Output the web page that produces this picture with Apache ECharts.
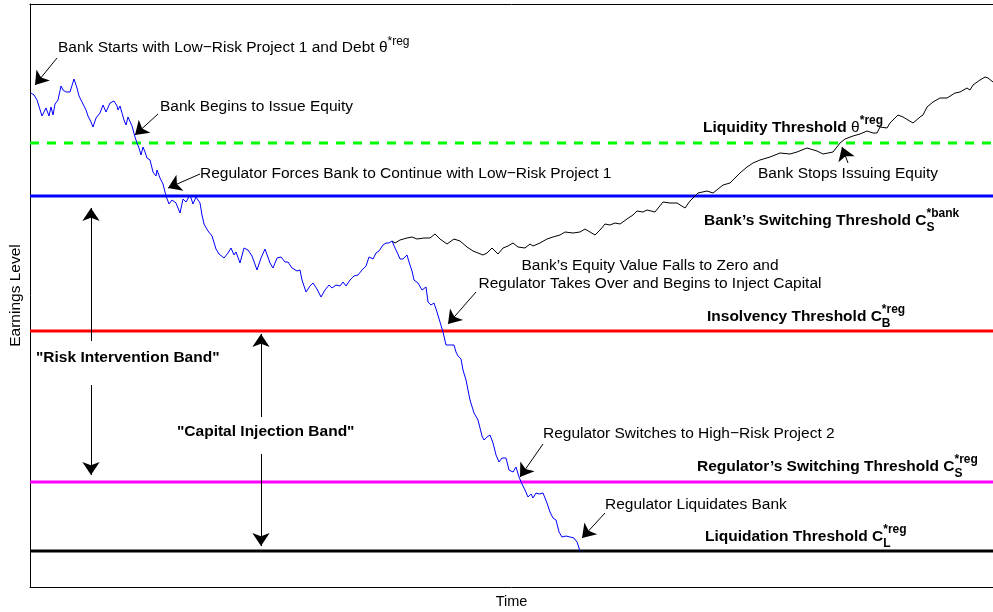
<!DOCTYPE html>
<html>
<head>
<meta charset="utf-8">
<title>Earnings Level</title>
<script src="https://cdn.jsdelivr.net/npm/echarts@6/dist/echarts.min.js"></script>
<style>
  html, body { margin: 0; padding: 0; background: #fff; }
  #chart { width: 993px; height: 612px; }
</style>
</head>
<body>
<div id="chart"></div>
<script>
// axes have no ticks: time runs 0..963, earnings level 0..583
const timeMax = 963
const levelMax = 583

// threshold levels
const liquidityLevel = 444
const bankSwitchLevel = 391
const insolvencyLevel = 256
const regSwitchLevel = 105
const liquidationLevel = 36

// earnings path: bank runs it, regulator takes over, ends at liquidation
const bankPath = [
  [1, 494], [4, 492], [7, 487], [12, 471], [16, 479], [19, 471], [21, 480], [23, 472], [25, 483], [28, 487],
  [31, 501], [33, 497], [36, 495], [40, 495], [44, 508], [47, 499], [49, 491], [53, 483], [56, 477], [58, 471],
  [61, 465], [63, 460], [66, 469], [70, 474], [73, 482], [76, 475], [80, 484], [84, 486], [87, 481], [88, 477],
  [90, 481], [94, 467], [96, 462], [98, 470], [100, 472], [102, 461], [105, 450], [107, 444], [109, 439], [111, 432],
  [113, 440], [115, 435], [117, 429], [120, 427], [123, 415], [126, 411], [127, 417], [130, 409], [133, 403], [136, 391],
  [139, 383], [142, 387], [146, 384], [150, 374], [153, 388], [156, 385], [160, 392], [163, 383], [166, 390], [170, 384],
  [172, 372], [174, 363], [178, 356], [182, 351], [186, 338], [189, 333], [194, 329], [198, 334], [201, 339], [204, 332],
  [206, 335], [210, 324], [214, 339], [218, 337], [222, 331], [227, 317], [231, 329], [235, 338], [240, 324], [243, 319],
  [247, 329], [251, 330], [255, 325], [258, 325], [262, 319], [267, 316], [270, 317], [272, 307], [276, 295], [280, 301],
  [283, 304], [287, 298], [291, 290], [295, 297], [299, 302], [302, 299], [306, 302], [310, 301], [313, 305], [316, 301],
  [320, 307], [324, 311], [328, 312], [332, 317], [336, 321], [339, 330], [343, 328], [346, 334], [349, 336], [353, 342],
  [356, 344], [359, 344], [362, 346],
  [365, 339], [367, 335], [370, 328], [373, 328], [377, 332], [379, 325], [382, 316], [384, 307], [388, 304], [392, 297],
  [396, 300], [398, 285], [401, 282], [404, 284], [407, 275], [410, 265], [413, 255], [416, 242], [418, 241], [421, 242],
  [424, 242], [426, 235], [428, 231], [431, 228], [433, 217], [436, 207], [440, 187], [444, 174], [448, 167], [452, 151],
  [454, 147], [457, 150], [460, 152], [463, 144], [466, 132], [469, 125], [472, 129], [476, 129], [479, 117], [483, 115],
  [486, 120], [489, 110], [492, 103], [495, 97], [498, 90], [501, 93], [503, 89], [506, 94], [509, 93], [513, 94],
  [515, 96], [517, 84], [520, 75], [523, 69], [526, 67], [529, 55], [532, 50], [536, 51], [540, 50], [544, 49],
  [547, 45], [550, 36]
]

// path had the bank kept control
const recoveryPath = [
  [362, 346], [365, 344], [370, 347], [377, 349], [382, 350], [387, 348], [394, 349], [400, 349], [405, 353], [410, 348],
  [417, 343], [424, 348], [430, 346], [437, 340], [443, 336], [453, 332], [457, 334], [462, 339], [468, 333], [473, 339],
  [478, 341], [483, 344], [488, 340], [495, 339], [500, 343], [503, 341], [510, 344], [517, 348], [523, 350], [530, 352],
  [535, 355], [543, 354], [550, 355], [555, 358], [560, 355], [565, 352], [570, 357], [575, 363], [580, 362], [585, 364],
  [590, 363], [597, 368], [603, 372], [607, 376], [613, 375], [617, 377], [625, 375], [633, 385], [640, 384], [647, 384],
  [655, 379], [660, 386], [668, 394], [677, 396], [683, 394], [693, 402], [700, 404], [710, 414], [717, 420], [723, 424],
  [730, 427], [740, 430], [750, 434], [760, 433], [767, 435], [777, 439], [787, 436], [793, 433], [803, 435], [810, 444],
  [815, 448], [823, 451], [830, 453], [837, 456], [843, 454], [847, 454], [850, 460], [857, 459], [860, 464], [868, 472],
  [873, 470], [878, 467], [883, 464], [890, 470], [893, 472], [897, 480], [903, 485], [910, 489], [917, 489], [925, 494],
  [930, 495], [937, 499], [940, 497], [943, 502], [950, 507], [955, 510], [958, 509], [963, 505]
]

// arrows: [tail, tip] in (time, level)
const arrows = [
  [[27, 529], [5, 502]],
  [[128, 473], [105, 452]],
  [[170, 413], [138, 399]],
  [[818, 424], [812, 440]],
  [[446, 295], [418, 263]],
  [[61, 246], [61, 379]],
  [[61, 202], [61, 112]],
  [[231, 170], [231, 253]],
  [[231, 133], [231, 41]],
  [[513, 143], [490, 110]],
  [[575, 74], [552, 49]]
]

// annotation texts, anchored at (time, level)
const notes = [
  { at: [28, 539], parts: [['Bank Starts with Low−Risk Project 1 and Debt θ', 'n'], ['*reg', 'sup']] },
  { at: [130, 480], parts: [['Bank Begins to Issue Equity', 'n']] },
  { at: [170, 413], parts: [['Regulator Forces Bank to Continue with Low−Risk Project 1', 'n']] },
  { at: [673, 459], parts: [['Liquidity Threshold ', 'b'], ['θ', 'n'], ['*reg', 'supb']] },
  { at: [728, 413], parts: [['Bank Stops Issuing Equity', 'n']] },
  { at: [674, 366], parts: [['Bank’s Switching Threshold C', 'b'], ['S', 'subb', true], ['*bank', 'supb']] },
  { at: [620, 321], center: true, parts: [['Bank’s Equity Value Falls to Zero and', 'n']] },
  { at: [620, 303], center: true, parts: [['Regulator Takes Over and Begins to Inject Capital', 'n']] },
  { at: [677, 270], parts: [['Insolvency Threshold C', 'b'], ['B', 'subb', true], ['*reg', 'supb']] },
  { at: [6, 229], parts: [['"Risk Intervention Band"', 'b']] },
  { at: [147, 155], parts: [['"Capital Injection Band"', 'b']] },
  { at: [513, 153], parts: [['Regulator Switches to High−Risk Project 2', 'n']] },
  { at: [667, 120], parts: [['Regulator’s Switching Threshold C', 'b'], ['S', 'subb', true], ['*reg', 'supb']] },
  { at: [575, 82], parts: [['Regulator Liquidates Bank', 'n']] },
  { at: [675, 50], parts: [['Liquidation Threshold C', 'b'], ['L', 'subb', true], ['*reg', 'supb']] }
]

const FONT = 'Liberation Sans, Arial, Helvetica, sans-serif'
const textStyles = {
  n: { size: 15.5, weight: 'normal', dy: 0 },
  b: { size: 15.5, weight: 'bold', dy: 0 },
  sup: { size: 12, weight: 'normal', dy: -6 },
  supb: { size: 12, weight: 'bold', dy: -7 },
  subb: { size: 12, weight: 'bold', dy: 7 }
}

function hline(level, color, width, type) {
  return {
    type: 'line',
    data: [[0, level], [timeMax, level]],
    symbol: 'none',
    silent: true,
    lineStyle: { color: color, width: width, type: type || 'solid' }
  }
}

const bareAxis = {
  axisTick: { show: false }, axisLabel: { show: false }, splitLine: { show: false }
}

const chart = echarts.init(document.getElementById('chart'))

const option = {
  animation: false,
  backgroundColor: '#fff',
  grid: { left: 30, top: 4, right: 0, bottom: 25, outerBoundsMode: 'none' },
  xAxis: [
    Object.assign({
      type: 'value', min: 0, max: timeMax,
      name: 'Time', nameLocation: 'middle', nameGap: 7,
      nameTextStyle: { fontFamily: FONT, fontSize: 14.5, color: '#000' },
      axisLine: { show: true, onZero: false, lineStyle: { color: '#000' } }
    }, bareAxis),
    // top frame line only
    Object.assign({
      type: 'value', min: 0, max: timeMax, position: 'top',
      axisLine: { show: true, onZero: false, lineStyle: { color: '#000' } }
    }, bareAxis)
  ],
  yAxis: Object.assign({
    type: 'value', min: 0, max: levelMax,
    name: 'Earnings Level', nameLocation: 'middle', nameGap: 6,
    nameTextStyle: { fontFamily: FONT, fontSize: 15.5, color: '#000' },
    axisLine: { show: true, onZero: false, lineStyle: { color: '#000' } }
  }, bareAxis),
  series: [
    hline(liquidationLevel, '#000000', 3),
    hline(regSwitchLevel, '#ff00ff', 3),
    hline(insolvencyLevel, '#ff0000', 3),
    hline(bankSwitchLevel, '#0000ff', 3),
    hline(liquidityLevel, '#00ff00', 3, [9, 8]),
    {
      type: 'line', data: recoveryPath, symbol: 'none', silent: true,
      lineStyle: { color: '#000', width: 1 }
    },
    {
      type: 'line', data: bankPath, symbol: 'none', silent: true,
      lineStyle: { color: '#0000ff', width: 1 },
      markLine: {
        silent: true, animation: false,
        symbol: ['none', 'arrow'], symbolSize: 13,
        label: { show: false },
        lineStyle: { color: '#000', width: 1, type: 'solid' },
        emphasis: { disabled: true },
        data: arrows.map(a => [{ coord: a[0] }, { coord: a[1] }])
      }
    }
  ]
}
chart.setOption(option)

// annotations with super/subscripts, placed via the axes
const ctx = document.createElement('canvas').getContext('2d')
function textWidth(str, st) {
  ctx.font = st.weight + ' ' + st.size + 'px ' + FONT
  return ctx.measureText(str).width
}

const graphics = []
notes.forEach(note => {
  const p = chart.convertToPixel({ xAxisIndex: 0, yAxisIndex: 0 }, note.at)
  let x = p[0]
  if (note.center) {
    let total = 0
    note.parts.forEach(part => { total += textWidth(part[0], textStyles[part[1]]) })
    x -= total / 2
  }
  note.parts.forEach(part => {
    const st = textStyles[part[1]]
    graphics.push({
      type: 'text', x: x, y: p[1] + st.dy, silent: true,
      style: {
        text: part[0], fill: '#000',
        fontFamily: FONT, fontSize: st.size, fontWeight: st.weight,
        align: 'left', verticalAlign: 'middle',
        textAlign: 'left', textVerticalAlign: 'middle'
      }
    })
    // stacked scripts share the same x
    if (!part[2]) x += textWidth(part[0], st)
  })
})
chart.setOption({ graphic: graphics })
</script>
</body>
</html>
